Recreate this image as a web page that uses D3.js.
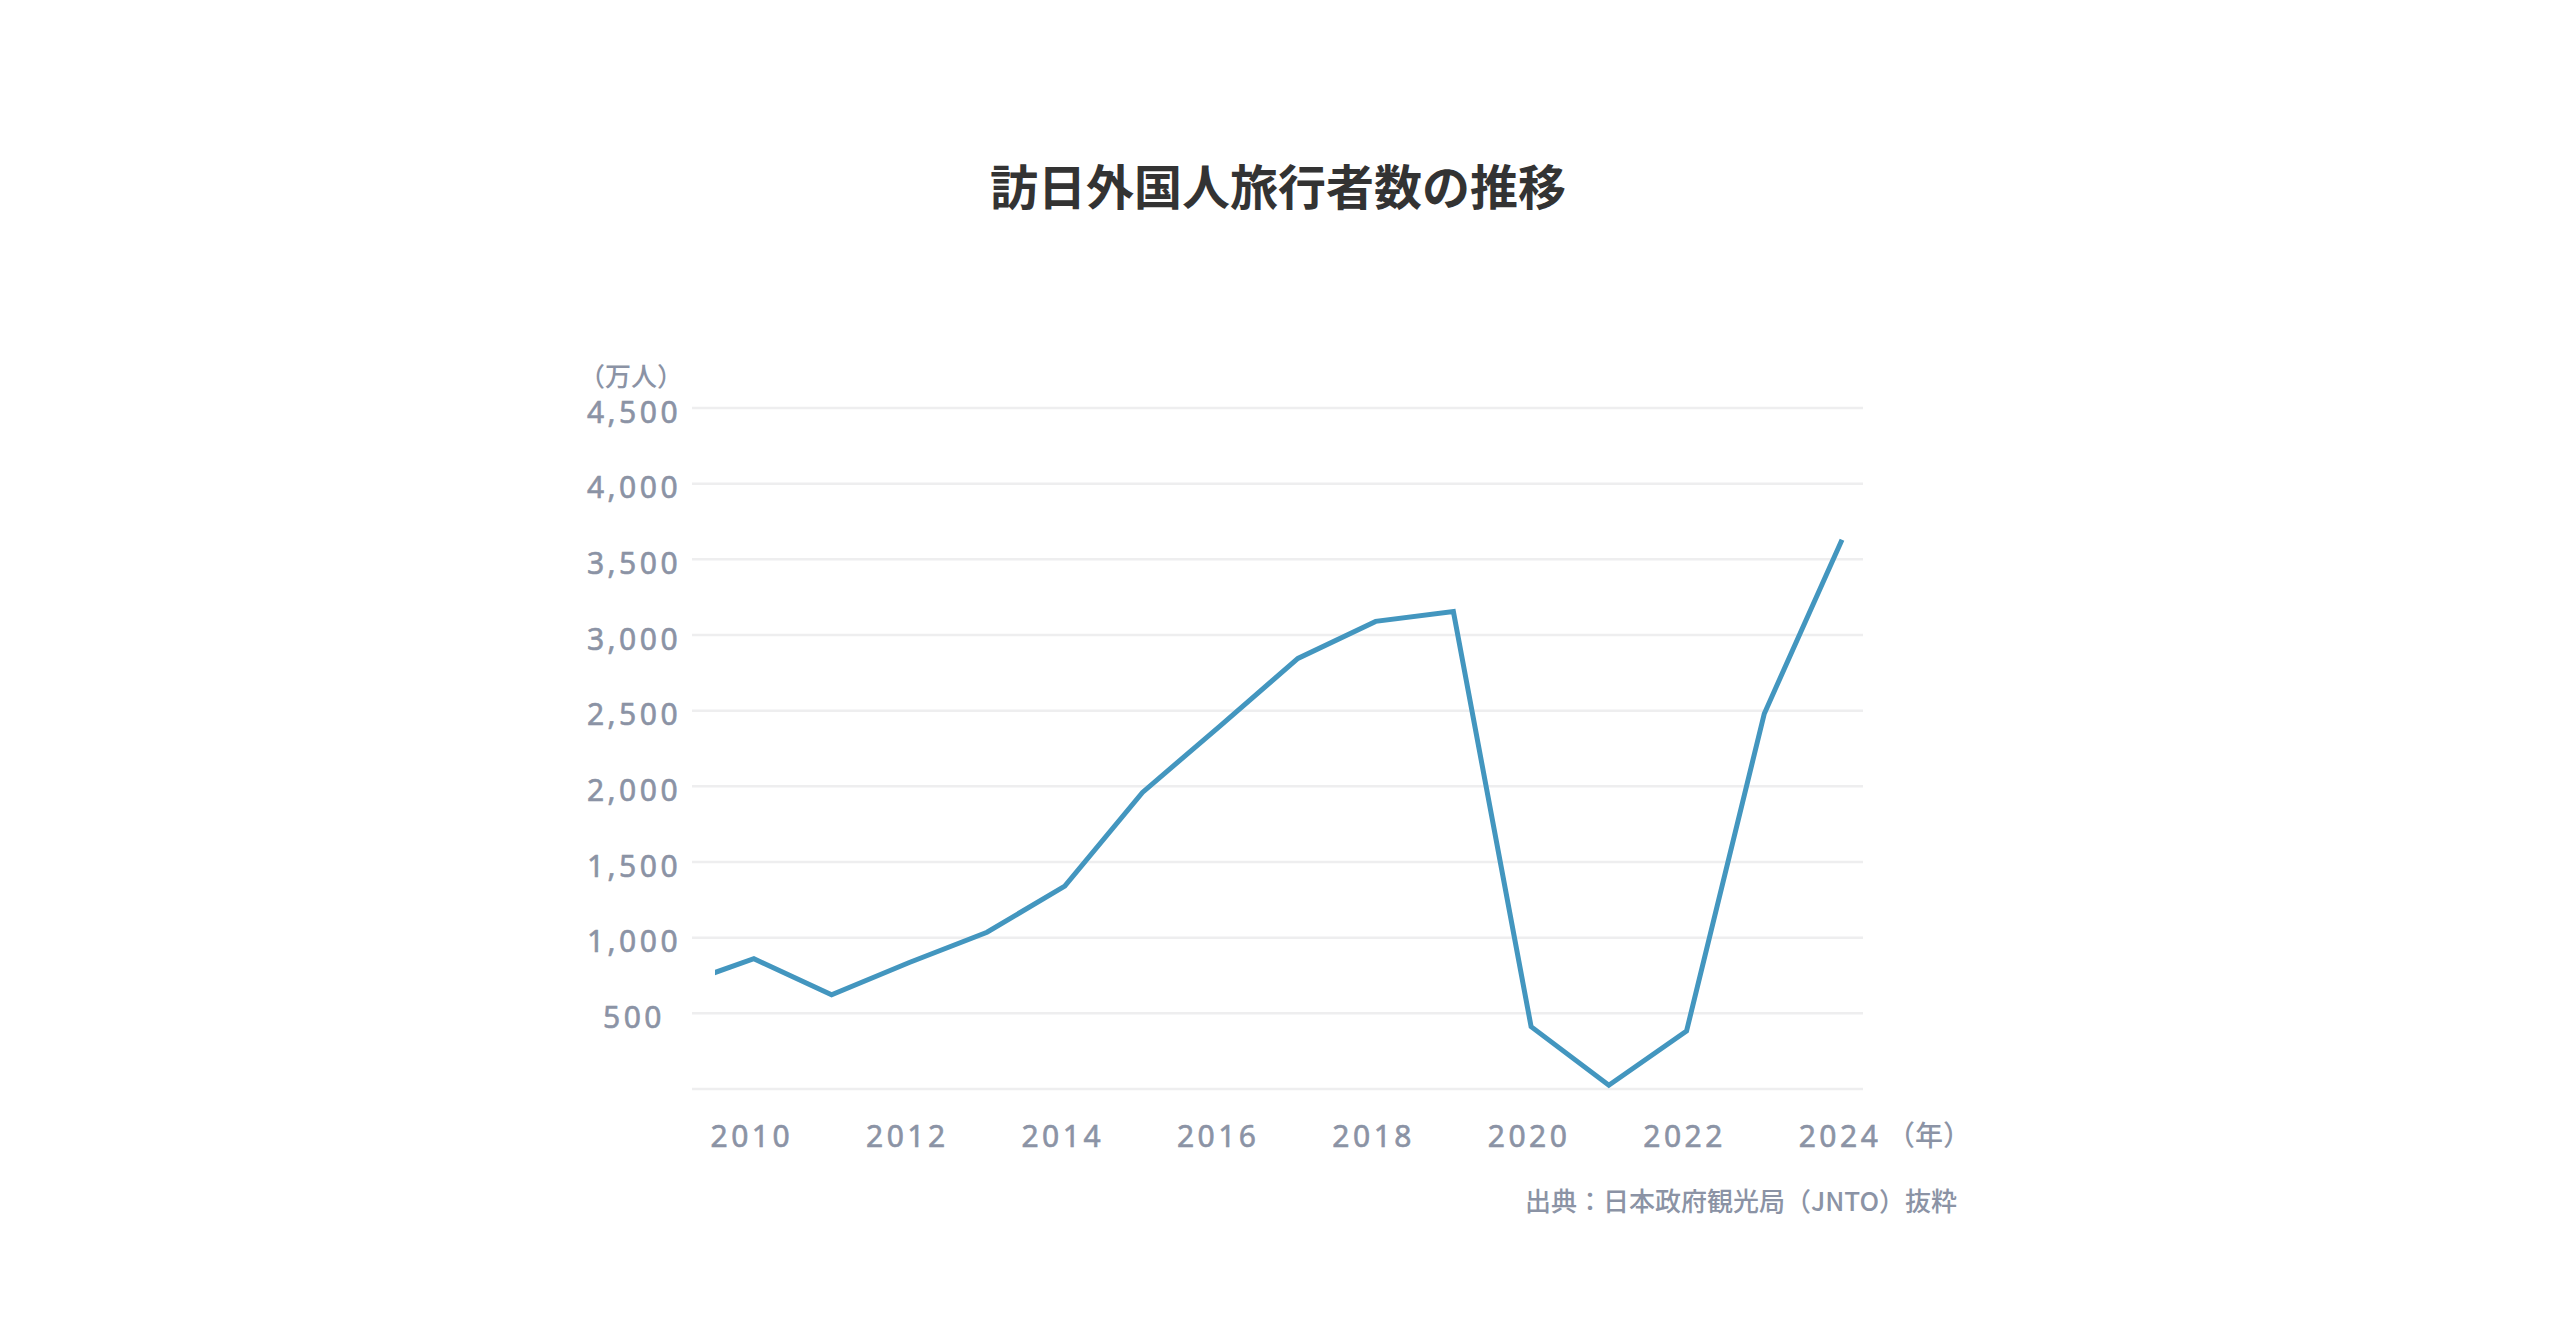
<!DOCTYPE html>
<html>
<head>
<meta charset="utf-8">
<script src="https://d3js.org/d3.v7.min.js"></script>
<style>
	body { margin: 0; background: #fff; }
</style>
</head>
<body>
<script>
// Data (万人)
var years = [2009, 2010, 2011, 2012, 2013, 2014, 2015, 2016, 2017, 2018, 2019, 2020, 2021, 2022, 2023, 2024];
var visitors = [679, 861, 622, 836, 1036, 1341, 1960, 2400, 2845, 3090, 3155, 412, 25, 383, 2480, 3630];
var yTicks = [0, 500, 1000, 1500, 2000, 2500, 3000, 3500, 4000, 4500];
var xTicks = [2010, 2012, 2014, 2016, 2018, 2020, 2022, 2024];

var W = 2560,
	H = 1340,
	gridLeft = 692,
	gridRight = 1863,
	labelX = 632,
	gray = "#8b93a5",
	latin = "'Noto Sans', 'Noto Sans CJK JP', sans-serif",
	cjk = "'Noto Sans CJK JP', sans-serif";

var svg = d3.select("body")
	.append("svg")
	.attr("width", W)
	.attr("height", H);

var x = d3.scaleLinear()
	.domain([2009.5, 2024])
	.range([715, 1842]);

var y = d3.scaleLinear()
	.domain([0, 4500])
	.range([1089, 408]);

// Title
svg.append("text")
	.text("訪日外国人旅行者数の推移")
	.attr("x", W / 2 - 2)
	.attr("y", 184)
	.attr("dominant-baseline", "central")
	.attr("text-anchor", "middle")
	.attr("font-family", cjk)
	.attr("font-weight", "bold")
	.attr("font-size", "48px")
	.attr("fill", "#333");

// Gridlines
svg.append("g")
	.selectAll("line")
	.data(yTicks)
	.enter()
	.append("line")
	.attr("x1", gridLeft)
	.attr("x2", gridRight)
	.attr("y1", function(d) { return y(d); })
	.attr("y2", function(d) { return y(d); })
	.attr("stroke", "#eeeeef")
	.attr("stroke-width", 2.5);

// Y labels (no 0)
svg.append("g")
	.selectAll("text")
	.data(yTicks.filter(function(d) { return d > 0; }))
	.enter()
	.append("text")
	.text(function(d) { return d3.format(",")(d); })
	.attr("x", labelX + 2)
	.attr("y", function(d) { return y(d) + 3; })
	.attr("dominant-baseline", "central")
	.attr("text-anchor", "middle")
	.attr("font-family", latin)
	.attr("font-size", "30px")
	.attr("letter-spacing", "3.5px")
	.attr("fill", gray)
	.attr("stroke", gray)
	.attr("stroke-width", 0.6);

svg.append("text")
	.text("（万人）")
	.attr("x", labelX - 1)
	.attr("y", 374)
	.attr("dominant-baseline", "central")
	.attr("text-anchor", "middle")
	.attr("font-family", cjk)
	.attr("font-weight", 500)
	.attr("font-size", "26px")
	.attr("fill", gray);

// X labels
svg.append("g")
	.selectAll("text")
	.data(xTicks)
	.enter()
	.append("text")
	.text(function(d) { return d; })
	.attr("x", function(d) { return x(d) - 2; })
	.attr("y", 1147)
	.attr("text-anchor", "middle")
	.attr("font-family", latin)
	.attr("font-size", "30px")
	.attr("letter-spacing", "3.5px")
	.attr("fill", gray)
	.attr("stroke", gray)
	.attr("stroke-width", 0.6);

svg.append("text")
	.text("（年）")
	.attr("x", x(2024) + 45)
	.attr("y", 1146)
	.attr("font-family", cjk)
	.attr("font-weight", 500)
	.attr("font-size", "28px")
	.attr("fill", gray);

// Line, clipped at the left edge
svg.append("clipPath")
	.attr("id", "plot-clip")
	.append("rect")
	.attr("x", x(2009.5))
	.attr("y", 0)
	.attr("width", W)
	.attr("height", H);

var line = d3.line()
	.x(function(d, i) { return x(years[i]); })
	.y(function(d) { return y(d); });

svg.append("path")
	.datum(visitors)
	.attr("d", line)
	.attr("clip-path", "url(#plot-clip)")
	.attr("fill", "none")
	.attr("stroke", "#4396bf")
	.attr("stroke-width", 5);

// Source
svg.append("text")
	.text("出典：日本政府観光局（JNTO）抜粋")
	.attr("x", 1957)
	.attr("y", 1211)
	.attr("text-anchor", "end")
	.attr("font-family", cjk)
	.attr("font-weight", 500)
	.attr("font-size", "26px")
	.attr("fill", gray);
</script>
</body>
</html>
